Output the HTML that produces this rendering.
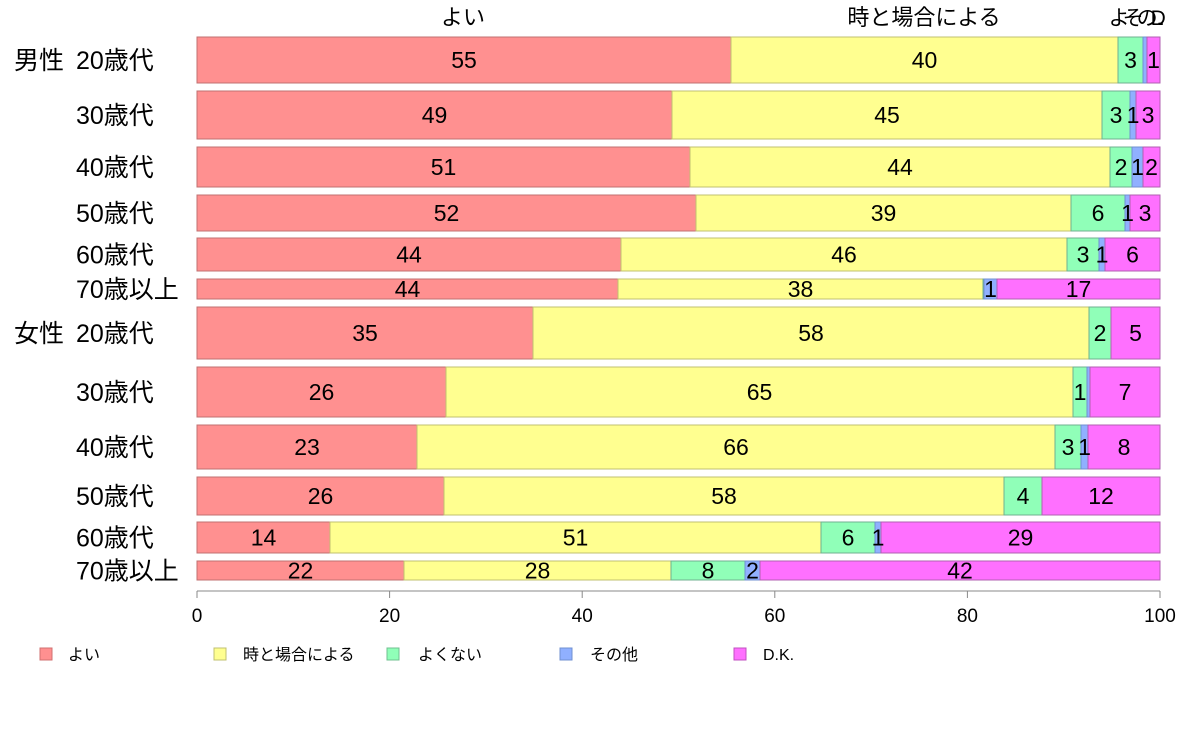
<!DOCTYPE html>
<html><head><meta charset="utf-8"><style>
html,body{margin:0;padding:0;background:#fff;}
svg text{font-family:"Liberation Sans","Noto Sans CJK JP",sans-serif;}
</style></head><body>
<svg width="1188" height="736" xmlns="http://www.w3.org/2000/svg">
<g fill="#000">
<text x="463" y="25" text-anchor="middle" font-size="22">よい</text>
<text x="924" y="25" text-anchor="middle" font-size="22">時と場合による</text>
<text x="1132" y="25" text-anchor="middle" font-size="21" letter-spacing="-7">よそのD...</text>
</g>
<g id="bars" stroke-width="1"></g>
<g font-size="25" fill="#000" id="ylab"></g>
<line x1="197" y1="591" x2="1160" y2="591" stroke="#888"/>
<g stroke="#888">
<line x1="197" y1="591" x2="197" y2="598"/><line x1="389.6" y1="591" x2="389.6" y2="598"/><line x1="582.2" y1="591" x2="582.2" y2="598"/><line x1="774.8" y1="591" x2="774.8" y2="598"/><line x1="967.4" y1="591" x2="967.4" y2="598"/><line x1="1160" y1="591" x2="1160" y2="598"/>
</g>
<g font-size="19" text-anchor="middle">
<text x="197" y="622">0</text><text x="389.6" y="622">20</text><text x="582.2" y="622">40</text><text x="774.8" y="622">60</text><text x="967.4" y="622">80</text><text x="1160" y="622">100</text>
</g>
<g font-size="16">
<rect x="40" y="648" width="12" height="12" fill="#ff9090" stroke="#d07070"/><text x="68" y="660">よい</text>
<rect x="214" y="648" width="12" height="12" fill="#ffff90" stroke="#c0c070"/><text x="243" y="660">時と場合による</text>
<rect x="387" y="648" width="12" height="12" fill="#90ffb8" stroke="#70c090"/><text x="418" y="660">よくない</text>
<rect x="560" y="648" width="12" height="12" fill="#90b0ff" stroke="#7090d0"/><text x="590" y="660">その他</text>
<rect x="734" y="648" width="12" height="12" fill="#ff70ff" stroke="#c050c0"/><text x="763" y="660">D.K.</text>
</g>
<script>
var rows=[
[37,83,[731,1118,1143,1147],["55","40","3","","1"],"男性","20歳代"],
[91,139,[672,1102,1130,1136],["49","45","3","1","3"],"","30歳代"],
[147,187,[690,1110,1132,1143],["51","44","2","1","2"],"","40歳代"],
[195,231,[696,1071,1125,1130],["52","39","6","1","3"],"","50歳代"],
[238,271,[621,1067,1099,1105],["44","46","3","1","6"],"","60歳代"],
[279,299,[618,983,984,997],["44","38","","1","17"],"","70歳以上"],
[307,359,[533,1089,1111,1111],["35","58","2","","5"],"女性","20歳代"],
[367,417,[446,1073,1087,1090],["26","65","1","","7"],"","30歳代"],
[425,469,[417,1055,1081,1088],["23","66","3","1","8"],"","40歳代"],
[477,515,[444,1004,1042,1042],["26","58","4","","12"],"","50歳代"],
[522,553,[330,821,875,881],["14","51","6","1","29"],"","60歳代"],
[561,580,[404,671,745,760],["22","28","8","2","42"],"","70歳以上"]];
var fills=["#ff9090","#ffff90","#90ffb8","#90b0ff","#ff70ff"];
var strokes=["#c07070","#c0c070","#70b090","#7090d0","#b060b0"];
var ns="http://www.w3.org/2000/svg",g=document.getElementById("bars"),yl=document.getElementById("ylab");
function el(t,a,p,txt){var e=document.createElementNS(ns,t);for(var k in a)e.setAttribute(k,a[k]);if(txt)e.textContent=txt;p.appendChild(e);return e;}
rows.forEach(function(r){
 var xs=[197].concat(r[2]).concat([1160]);var y0=r[0],h=r[1]-r[0],cy=y0+h/2+8;
 for(var i=0;i<5;i++){var w=xs[i+1]-xs[i];if(w>0)el("rect",{x:xs[i],y:y0,width:w,height:h,fill:fills[i],stroke:strokes[i]},g);}
 for(var i=0;i<5;i++){if(r[3][i])el("text",{x:(xs[i]+xs[i+1])/2,y:cy,"text-anchor":"middle","font-size":23},g,r[3][i]);}
 if(r[4])el("text",{x:14,y:cy+1},yl,r[4]);
 el("text",{x:76,y:cy+1},yl,r[5]);
});
</script>
</svg>
</body></html>
